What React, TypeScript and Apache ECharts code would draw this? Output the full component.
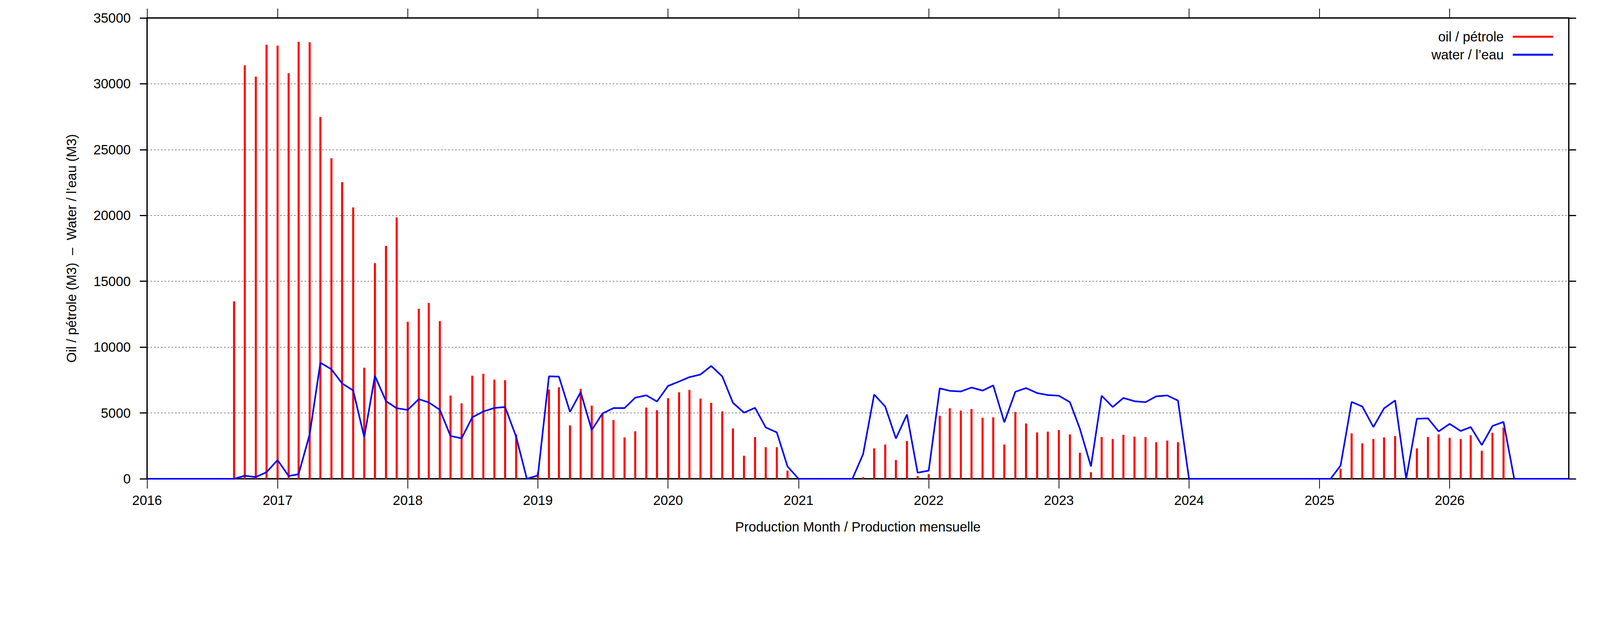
import React, { useEffect, useRef } from "react";
import * as echarts from "echarts";

// Tick labels of the time axis (one per year)
const YEARS = [2016, 2017, 2018, 2019, 2020, 2021, 2022, 2023, 2024, 2025, 2026];

// Monthly values, January 2016 .. December 2026 (12 values per row)
const OIL = [
  0, 0, 0, 0, 0, 0, 0, 0, 13480, 31410, 30550, 32970, // 2016
  32900, 30810, 33190, 33160, 27480, 24350, 22530, 20610, 8440, 16380, 17690, 19850, // 2017
  11930, 12910, 13350, 11980, 6320, 5730, 7830, 7970, 7530, 7490, 3370, 0, // 2018
  470, 6780, 6950, 4050, 6830, 5560, 4930, 4470, 3140, 3610, 5410, 5210, // 2019
  6120, 6570, 6750, 6090, 5770, 5120, 3820, 1750, 3170, 2400, 2400, 620, // 2020
  0, 0, 0, 0, 0, 0, 120, 2310, 2600, 1420, 2870, 210, // 2021
  360, 4790, 5350, 5180, 5300, 4640, 4670, 2600, 5080, 4200, 3520, 3580, // 2022
  3700, 3370, 1980, 500, 3170, 3020, 3340, 3200, 3170, 2780, 2900, 2780, // 2023
  0, 0, 0, 0, 0, 0, 0, 0, 0, 0, 0, 0, // 2024
  0, 0, 770, 3450, 2690, 3020, 3140, 3250, 0, 2310, 3170, 3370, // 2025
  3110, 3020, 3310, 2130, 3490, 3880, 0, 0, 0, 0, 0, 0, // 2026
];

const WATER = [
  0, 0, 0, 0, 0, 0, 0, 0, 0, 230, 130, 500, // 2016
  1420, 210, 350, 3380, 8820, 8320, 7240, 6710, 3160, 7810, 5900, 5360, // 2017
  5230, 6050, 5800, 5240, 3250, 3070, 4670, 5110, 5380, 5450, 3200, 0, // 2018
  250, 7780, 7760, 5080, 6580, 3700, 4960, 5370, 5370, 6160, 6340, 5870, // 2019
  7050, 7390, 7720, 7920, 8570, 7780, 5770, 5020, 5390, 3900, 3520, 940, // 2020
  0, 0, 0, 0, 0, 0, 1870, 6400, 5490, 3060, 4880, 460, // 2021
  620, 6870, 6680, 6630, 6930, 6700, 7090, 4290, 6610, 6890, 6510, 6360, // 2022
  6310, 5820, 3800, 940, 6310, 5450, 6140, 5890, 5820, 6260, 6330, 5940, // 2023
  0, 0, 0, 0, 0, 0, 0, 0, 0, 0, 0, 0, // 2024
  0, 0, 1000, 5840, 5490, 3930, 5350, 5950, 0, 4560, 4590, 3600, // 2025
  4170, 3630, 3930, 2560, 4010, 4320, 0, 0, 0, 0, 0, 0, // 2026
];

const OIL_NAME = "oil / pétrole";
const WATER_NAME = "water / l\u2019eau";
const X_TITLE = "Production Month / Production mensuelle";
const Y_TITLE = "Oil / pétrole (M3)  \u2013  Water / l\u2019eau (M3)";

const FONT = "'Liberation Sans', Arial, Helvetica, sans-serif";
const REF_W = 5483;
const REF_H = 1594;

export default function App() {
  const ref = useRef<HTMLDivElement>(null);

  useEffect(() => {
    const el = ref.current;
    if (!el) return;
    const W = el.clientWidth || REF_W;
    const H = el.clientHeight || REF_H;
    const sx = W / REF_W;
    const sy = H / REF_H;
    const sf = Math.min(sx, sy);

    const chart = echarts.init(el, undefined, { renderer: "svg", width: W, height: H });

    const months = OIL.map((_, i) => Date.UTC(YEARS[0], i, 1));
    const yearTicks = YEARS.map((y) => Date.UTC(y, 0, 1));
    const xMin = Date.UTC(2016, 0, 1);
    const xMax = Date.UTC(2026, 11, 1);

    const fontSize = 46 * sf;
    const tickLabel = { fontFamily: FONT, fontSize, color: "#000" };

    const option: any = {
      animation: false,
      backgroundColor: "#ffffff",
      textStyle: { fontFamily: FONT, color: "#000" },
      grid: {
        left: 504 * sx,
        right: 107 * sx,
        top: 46 * sy,
        bottom: 369 * sy,
        show: true,
        borderColor: "#000",
        borderWidth: 4.5 * sf,
        backgroundColor: "transparent",
        containLabel: false,
      },
      legend: {
        orient: "vertical",
        align: "right",
        right: 161 * sx,
        top: 71 * sy,
        padding: 0,
        itemGap: 0,
        itemWidth: 138 * sx,
        itemHeight: 6.5 * sf,
        icon: "rect",
        textStyle: {
          fontFamily: FONT,
          fontSize,
          lineHeight: 46 * sy,
          color: "#000",
          padding: [0, 24 * sx, 0, 0],
        },
        data: [OIL_NAME, WATER_NAME],
      },
      xAxis: [
        {
          type: "value",
          position: "bottom",
          min: xMin,
          max: xMax,
          scale: true,
          axisLine: { show: false, onZero: false },
          axisTick: {
            show: true,
            inside: false,
            length: 25 * sy,
            customValues: yearTicks,
            lineStyle: { color: "#000", width: 2.5 * sf },
          },
          axisLabel: {
            ...tickLabel,
            margin: 38 * sy,
            customValues: yearTicks,
            formatter: (v: number) => String(new Date(v).getUTCFullYear()),
          },
          splitLine: { show: false },
          name: X_TITLE,
          nameLocation: "middle",
          nameGap: 106 * sy,
          nameMoveOverlap: false,
          nameTextStyle: { fontFamily: FONT, fontSize, color: "#000" },
        },
        {
          type: "value",
          position: "top",
          min: xMin,
          max: xMax,
          scale: true,
          axisLine: { show: false, onZero: false },
          axisTick: {
            show: true,
            inside: false,
            length: 24 * sy,
            customValues: yearTicks,
            lineStyle: { color: "#000", width: 2.5 * sf },
          },
          axisLabel: { show: false, customValues: yearTicks },
          splitLine: { show: false },
        },
      ],
      yAxis: [
        {
          type: "value",
          position: "left",
          min: 0,
          max: 35000,
          interval: 5000,
          axisLine: { show: false, onZero: false },
          axisTick: {
            show: true,
            inside: false,
            length: 25 * sx,
            lineStyle: { color: "#000", width: 4 * sf },
          },
          axisLabel: {
            ...tickLabel,
            margin: 56 * sx,
            formatter: (v: number) => String(v),
          },
          splitLine: {
            show: true,
            lineStyle: { color: "#000", width: 1.6 * sf, type: [5 * sf, 7 * sf] },
          },
          name: Y_TITLE,
          nameLocation: "middle",
          nameRotate: 90,
          nameGap: 236 * sx,
          nameMoveOverlap: false,
          nameTextStyle: { fontFamily: FONT, fontSize, color: "#000" },
        },
        {
          type: "value",
          position: "right",
          min: 0,
          max: 35000,
          interval: 5000,
          axisLine: { show: false, onZero: false },
          axisTick: {
            show: true,
            inside: false,
            length: 25 * sx,
            lineStyle: { color: "#000", width: 4 * sf },
          },
          axisLabel: { show: false },
          splitLine: { show: false },
        },
      ],
      series: [
        {
          name: OIL_NAME,
          type: "bar",
          xAxisIndex: 0,
          yAxisIndex: 0,
          barWidth: 7 * sx,
          itemStyle: { color: "#ff0000" },
          data: months.map((t, i) => [t, OIL[i]]),
        },
        {
          name: WATER_NAME,
          type: "line",
          xAxisIndex: 0,
          yAxisIndex: 0,
          symbol: "none",
          showSymbol: false,
          clip: false,
          itemStyle: { color: "#0000ff" },
          lineStyle: { color: "#0000ff", width: 5.5 * sf },
          data: months.map((t, i) => [t, WATER[i]]),
        },
      ],
    };

    chart.setOption(option);
    return () => chart.dispose();
  }, []);

  return (
    <div
      ref={ref}
      style={{
        position: "fixed",
        left: 0,
        top: 0,
        width: "100vw",
        height: "100vh",
        overflow: "hidden",
      }}
    />
  );
}
